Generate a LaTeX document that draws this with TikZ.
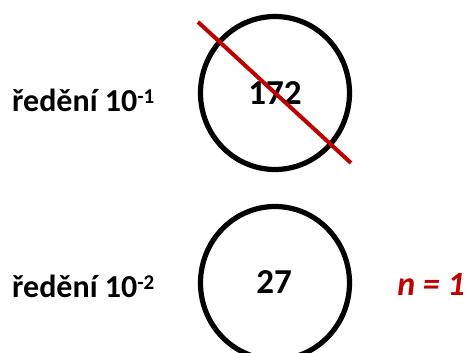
\documentclass[tikz,border=0pt]{standalone}
\usepackage{fontspec}
\setmainfont{Carlito}
\usetikzlibrary{positioning,shapes.geometric}
\definecolor{ink}{HTML}{000000}
\definecolor{strike}{HTML}{C00000}
\newcommand{\dilexp}[1]{\raisebox{8.5pt}{\fontsize{21}{25}\selectfont #1}}
\tikzset{
  plate/.style={ellipse, draw=ink, line width=5.2pt, minimum width=149pt,
                minimum height=153pt, inner sep=0pt},
  lbl/.style={font=\fontsize{32}{38}\selectfont\bfseries, color=ink, inner sep=0pt},
  cnt/.style={lbl, font=\fontsize{35}{42}\selectfont\bfseries, anchor=base},
  res/.style={lbl, font=\fontsize{34}{41}\selectfont\bfseries\itshape, color=strike},
  cross/.style={line width=4pt, draw=strike}
}
\begin{document}
\begin{tikzpicture}[x=1pt,y=-1pt]
  \useasboundingbox (0,0) rectangle (467,353);
  \clip (0,0) rectangle (467,353);
  \node[plate] (plate1) at (275,93) {};
  \node[plate] (plate2) at (275,283) {};
  \node[cnt] (count1) at (275,105) {172};
  \node[cnt] (count2) at (274,294) {27};
  \node[lbl, anchor=base west] (dil1) at (12,112) {ředění 10\dilexp{-1}};
  \node[lbl, anchor=base west] (dil2) at (12,298) {ředění 10\dilexp{-2}};
  \node[res, anchor=base east] (nres) at (465,295) {n = 1};
  \coordinate (crossA) at (198,22);
  \coordinate (crossB) at (351,163);
  \draw[cross] (crossA) -- (crossB);
\end{tikzpicture}
\end{document}
